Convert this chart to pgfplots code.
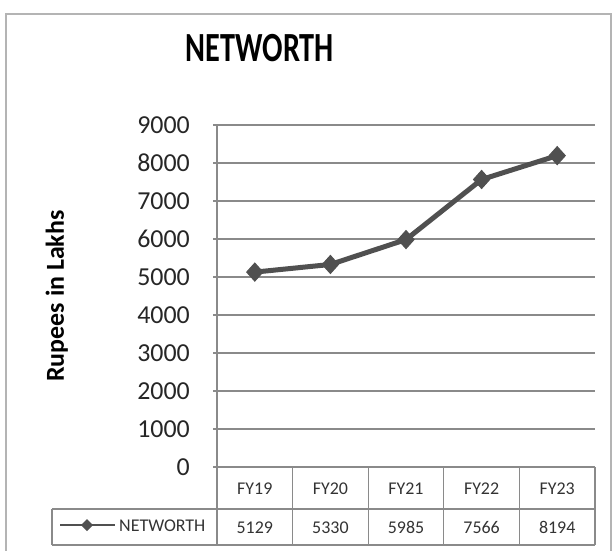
\documentclass[border=0pt]{standalone}
\usepackage{fontspec}
\setmainfont{Carlito}
\usepackage{pgfplots}
\usepackage{pgfplotstable}
\pgfplotsset{compat=1.18}
\definecolor{linegray}{HTML}{505050}
\definecolor{gridgray}{HTML}{8A8A8A}
\definecolor{bordergray}{HTML}{B4B4B4}
\pgfplotstableread{
x label value
0 FY19 5129
1 FY20 5330
2 FY21 5985
3 FY22 7566
4 FY23 8194
}\networth
\begin{document}
\begin{tikzpicture}[x=1bp,y=1bp]
\useasboundingbox (0,0) rectangle (615,-551);
\draw[bordergray, line width=2bp] (6,-560) -- (6,-14) -- (611,-14) -- (611,-560);
\node[anchor=base, inner sep=0pt, font=\bfseries\fontsize{32}{32}\selectfont] at (260,-62) {\scalebox{0.95}[1.3]{NETWORTH}};
\begin{axis}[
  at={(217bp,-467bp)}, anchor=south west,
  scale only axis, width=378bp, height=342bp,
  xmin=-0.5, xmax=4.5, ymin=0, ymax=9000,
  ytick={0,1000,...,9000},
  xtick={0,...,4},
  xticklabels from table={\networth}{label},
  axis lines*=left,
  ymajorgrids,
  grid style={gridgray, line width=1.5bp},
  axis line style={gridgray, line width=1.3bp},
  tick align=outside, major tick length=4bp,
  ytick style={gridgray, line width=1.3bp},
  xtick style={draw=none},
  /pgf/number format/assume math mode=true,
  /pgf/number format/1000 sep={},
  yticklabel style={font=\fontsize{26}{26}\selectfont, inner sep=0pt, xshift=-23bp, text=black!85},
  xticklabel style={font=\fontsize{18}{18}\selectfont, anchor=base, inner sep=0pt, yshift=-23bp, text=black!80},
  ylabel={\bfseries Rupees in Lakhs},
  ylabel style={font=\fontsize{26}{26}\selectfont, at={(axis description cs:-0.394,0.5)}, anchor=south, inner sep=0pt},
  clip=false,
]
\addplot[linegray, line width=5bp, mark=diamond*, mark size=9bp, mark options={xscale=1.2, fill=linegray, draw=linegray, line width=1bp}]
  table[x=x, y=value] {\networth};
\end{axis}
% data table
\begin{scope}[gridgray, line width=1.3bp]
\draw (217,-467) -- (595,-467);
\draw (52,-509) -- (595,-509);
\draw (52,-545) -- (595,-545);
\draw (52,-509) -- (52,-545);
\foreach \xx in {217,292.6,368.2,443.8,519.4,595} \draw (\xx,-467) -- (\xx,-545);
\end{scope}
\foreach \v [count=\i from 0] in {5129,5330,5985,7566,8194}
  \node[anchor=base, inner sep=0pt, font=\fontsize{18}{18}\selectfont, text=black!80] at (254.8+75.6*\i,-533) {\v};
\draw[linegray, line width=2.5bp] (60,-525) -- (115,-525);
\fill[linegray] (87,-519) -- (93,-525) -- (87,-531) -- (81,-525) -- cycle;
\node[anchor=base west, inner sep=0pt, font=\fontsize{18}{18}\selectfont, text=black!80] at (119,-531) {NETWORTH};
\end{tikzpicture}
\end{document}
